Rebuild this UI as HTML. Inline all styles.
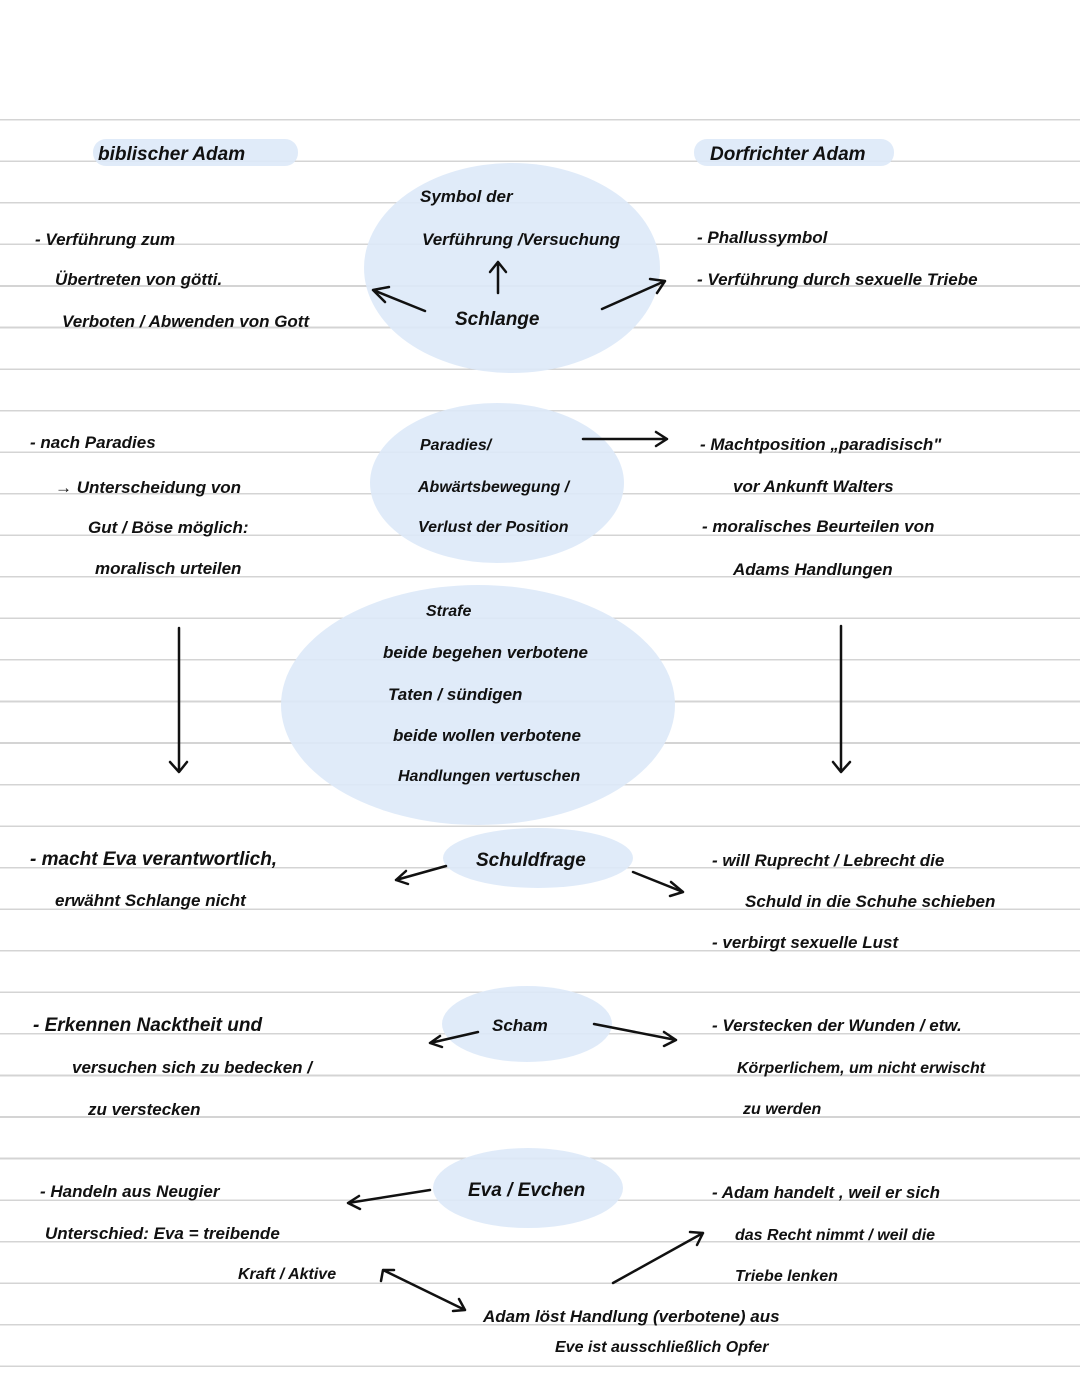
<!DOCTYPE html>
<html><head><meta charset="utf-8"><style>
html,body{margin:0;padding:0}
body{width:1080px;height:1397px;background:#fff;position:relative;overflow:hidden}
.lines{position:absolute;left:0;top:119px;width:1080px;height:1278px;
background-image:repeating-linear-gradient(to bottom,#d4d4d4 0,#d4d4d4 1.6px,transparent 1.6px,transparent 41.55px)}
svg{position:absolute;left:0;top:0}
text{font-family:"Liberation Sans",sans-serif;font-weight:bold;font-size:19px;fill:#111;font-style:italic}
</style></head><body>
<div class="lines"></div>
<svg width="1080" height="1397">
<g fill="#dde9f8" fill-opacity="0.9">
<rect x="93" y="139" width="205" height="27" rx="13"/>
<rect x="694" y="139" width="200" height="27" rx="13"/>
<ellipse cx="512" cy="268" rx="148" ry="105"/>
<ellipse cx="497" cy="483" rx="127" ry="80"/>
<ellipse cx="478" cy="705" rx="197" ry="120"/>
<ellipse cx="538" cy="858" rx="95" ry="30"/>
<ellipse cx="527" cy="1024" rx="85" ry="38"/>
<ellipse cx="528" cy="1188" rx="95" ry="40"/>
</g>
<g>
<text x="98" y="160">biblischer  Adam</text>
<text x="710" y="160">Dorfrichter  Adam</text>
<text x="420" y="202" style="font-size:17px">Symbol der</text>
<text x="422" y="245" style="font-size:17px">Verführung /Versuchung</text>
<text x="455" y="325">Schlange</text>
<text x="35" y="245" style="font-size:17px">- Verführung  zum</text>
<text x="55" y="285" style="font-size:17px">Übertreten  von  götti.</text>
<text x="62" y="327" style="font-size:17px">Verboten / Abwenden  von  Gott</text>
<text x="697" y="243" style="font-size:17px">- Phallussymbol</text>
<text x="697" y="285" style="font-size:17px">-  Verführung  durch  sexuelle  Triebe</text>
<text x="30" y="448" style="font-size:17px">- nach  Paradies</text>
<text x="55" y="493" style="font-size:17px">→ Unterscheidung  von</text>
<text x="88" y="533" style="font-size:17px">Gut / Böse  möglich:</text>
<text x="95" y="574" style="font-size:17px">moralisch  urteilen</text>
<text x="420" y="450" style="font-size:16px">Paradies/</text>
<text x="418" y="492" style="font-size:16px">Abwärtsbewegung /</text>
<text x="418" y="532" style="font-size:16px">Verlust  der  Position</text>
<text x="700" y="450" style="font-size:17px">-  Machtposition „paradisisch"</text>
<text x="733" y="492" style="font-size:17px">vor  Ankunft  Walters</text>
<text x="702" y="532" style="font-size:17px">-  moralisches  Beurteilen  von</text>
<text x="733" y="575" style="font-size:17px">Adams  Handlungen</text>
<text x="426" y="616" style="font-size:16px">Strafe</text>
<text x="383" y="658" style="font-size:17px">beide  begehen  verbotene</text>
<text x="388" y="700" style="font-size:17px">Taten / sündigen</text>
<text x="393" y="741" style="font-size:17px">beide  wollen  verbotene</text>
<text x="398" y="781" style="font-size:16px">Handlungen  vertuschen</text>
<text x="30" y="865">- macht  Eva  verantwortlich,</text>
<text x="55" y="906" style="font-size:17px">erwähnt  Schlange  nicht</text>
<text x="476" y="866">Schuldfrage</text>
<text x="712" y="866" style="font-size:17px">-  will  Ruprecht / Lebrecht  die</text>
<text x="745" y="907" style="font-size:17px">Schuld  in  die  Schuhe  schieben</text>
<text x="712" y="948" style="font-size:17px">-  verbirgt  sexuelle  Lust</text>
<text x="33" y="1031">- Erkennen  Nacktheit  und</text>
<text x="72" y="1073" style="font-size:17px">versuchen  sich  zu  bedecken /</text>
<text x="88" y="1115" style="font-size:17px">zu  verstecken</text>
<text x="492" y="1031" style="font-size:17px">Scham</text>
<text x="712" y="1031" style="font-size:17px">-  Verstecken  der  Wunden / etw.</text>
<text x="737" y="1073" style="font-size:16px">Körperlichem, um  nicht  erwischt</text>
<text x="743" y="1114" style="font-size:16px">zu  werden</text>
<text x="40" y="1197" style="font-size:17px">-  Handeln  aus  Neugier</text>
<text x="45" y="1239" style="font-size:17px">Unterschied: Eva =  treibende</text>
<text x="238" y="1279" style="font-size:16px">Kraft / Aktive</text>
<text x="468" y="1196">Eva / Evchen</text>
<text x="712" y="1198" style="font-size:17px">-  Adam  handelt , weil  er  sich</text>
<text x="735" y="1240" style="font-size:16px">das  Recht  nimmt / weil  die</text>
<text x="735" y="1281" style="font-size:16px">Triebe  lenken</text>
<text x="483" y="1322" style="font-size:17px">Adam  löst  Handlung (verbotene) aus</text>
<text x="555" y="1352" style="font-size:16px">Eve  ist  ausschließlich  Opfer</text>
</g>
<g stroke="#111" stroke-width="2.5" fill="none" stroke-linecap="round" stroke-linejoin="round">
<path d="M498 293 L498 262 M490 272 L498 262 L506 272"/>
<path d="M425 311 L373 290 M385 302 L373 290 L389 287"/>
<path d="M602 309 L665 281 M650 279 L665 281 L657 293"/>
<path d="M583 439 L667 439 M656 432 L667 439 L656 446"/>
<path d="M179 628 L179 770 M170 762 L179 772 L187 762"/>
<path d="M841 626 L841 770 M833 762 L841 772 L850 762"/>
<path d="M446 866 L396 880 M406 871 L396 880 L408 884"/>
<path d="M633 872 L683 892 M671 882 L683 892 L670 896"/>
<path d="M478 1032 L430 1043 M440 1036 L430 1043 L442 1047"/>
<path d="M594 1024 L676 1040 M664 1032 L676 1040 L664 1046"/>
<path d="M430 1190 L348 1203 M359 1196 L348 1203 L360 1209"/>
<path d="M383 1270 L465 1310 M381 1281 L383 1270 L394 1270 M453 1311 L465 1310 L459 1299"/>
<path d="M613 1283 L703 1233 M690 1232 L703 1233 L697 1245"/>
</g>
</svg>
</body></html>
